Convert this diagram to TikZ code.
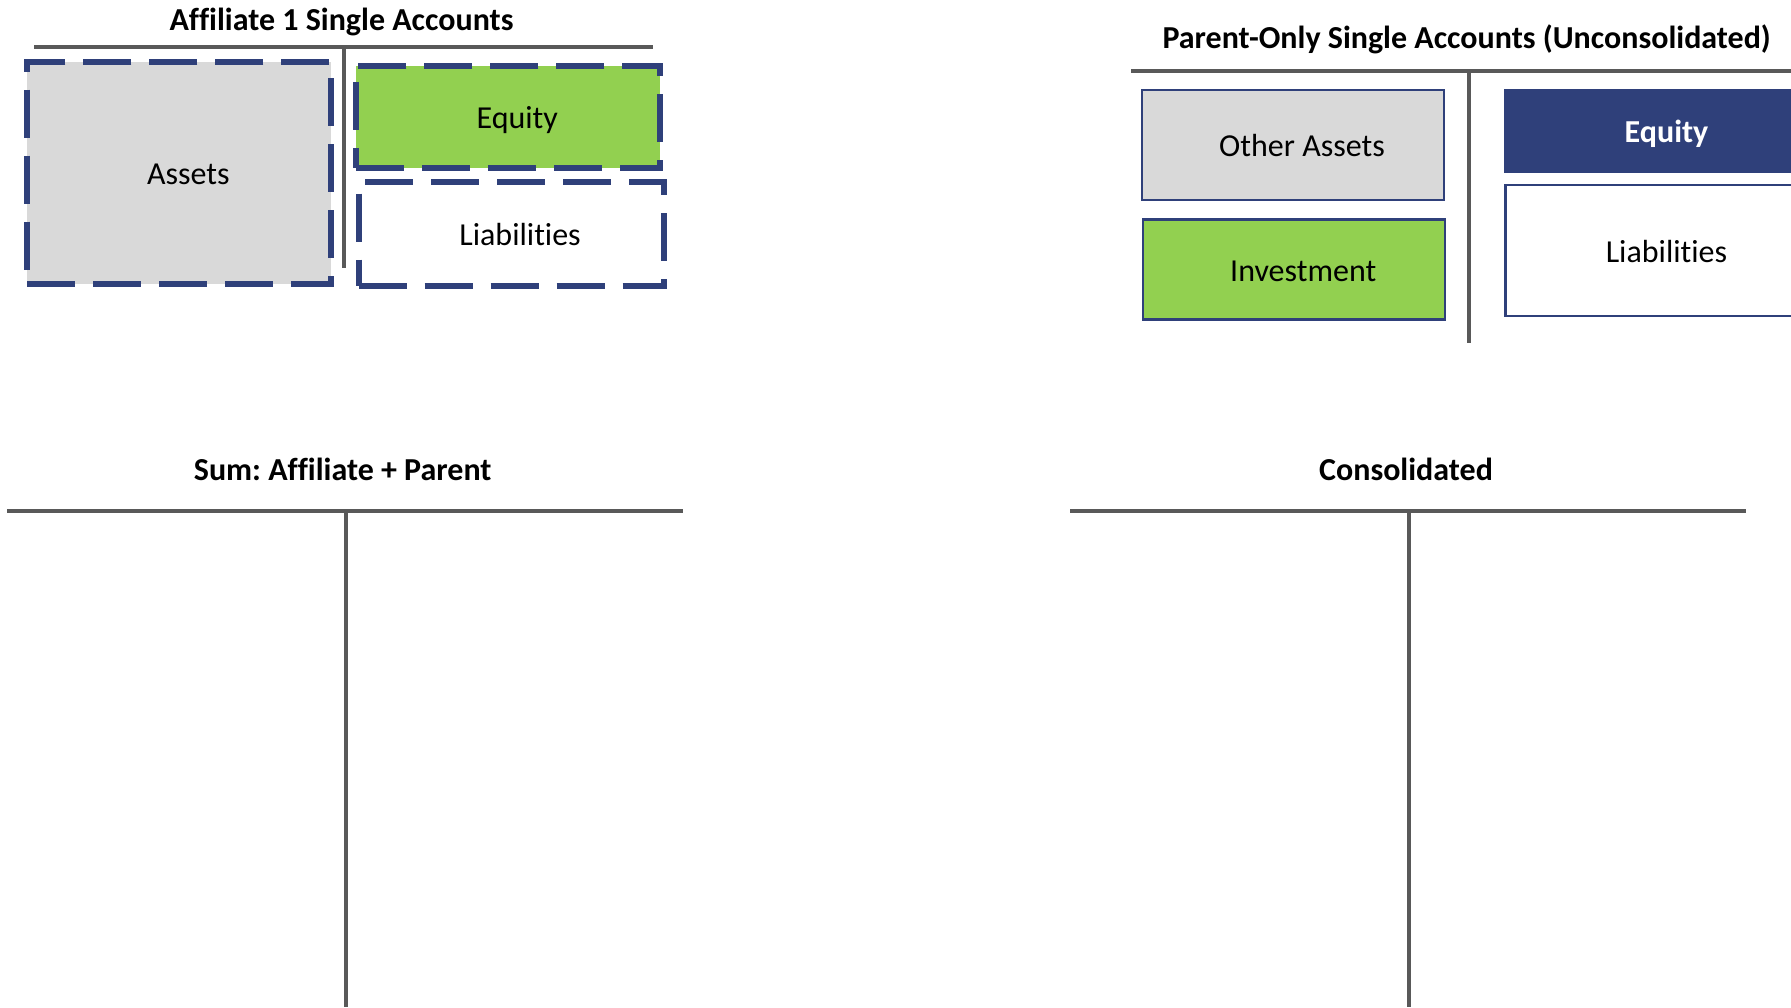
\documentclass[tikz,border=0pt]{standalone}
\usepackage{fontspec}
\setmainfont{Carlito}[Ligatures=NoCommon]
\usepackage{tikz}
\usetikzlibrary{positioning}
\definecolor{navy}{HTML}{2F407A}
\definecolor{accgreen}{HTML}{92D050}
\definecolor{accgray}{HTML}{D9D9D9}
\definecolor{teegray}{HTML}{595959}
\tikzset{every picture/.style={x=1pt,y=-1pt}}
\tikzset{tee lines/.style={draw=teegray,line width=4pt}}
\tikzset{heading/.style={font=\frenchspacing\bfseries\fontsize{32}{38}\selectfont,inner sep=0pt}}
\tikzset{acct/.style={draw=navy,line width=2.5pt,inner sep=0pt,outer sep=0pt,
    font=\fontsize{32}{38}\selectfont,text height=26pt,text depth=3pt}}
\tikzset{dashed acct/.style={acct,line width=6pt,dash pattern=on 48pt off 18pt}}
\tikzset{nudged/.style={execute at begin node={\hspace*{18pt}}}}

\begin{document}
\begin{tikzpicture}
      \clip (0,0) rectangle (1791,1007);
      \fill[white] (0,0) rectangle (1791,1007);
      % affiliate
      \node[heading] (afftitle) at (341.5,22) {Affiliate 1 Single Accounts};
      \draw[tee lines] (34,47) -- (653,47) (344,47) -- (344,268);
      \node[dashed acct,nudged,fill=accgray,minimum width=304pt,minimum height=222pt] (affassets) at (179.3,172.5) {Assets};
      \node[dashed acct,nudged,fill=accgreen,minimum width=304pt,minimum height=102pt] (affequity) at (508.3,117) {Equity};
      \node[dashed acct,nudged,fill=white,minimum width=305pt,minimum height=104pt] (affliab) at (511.1,233.6) {Liabilities};
      % parent
      \node[heading] (partitle) at (1466.6,39) {Parent-Only Single Accounts (Unconsolidated)};
      \draw[tee lines] (1131,71) -- (1791,71) (1469,71) -- (1469,343);
      \node[acct,nudged,fill=accgray,minimum width=302pt,minimum height=110pt] (parother) at (1293,145) {Other Assets};
      \node[acct,nudged,fill=accgreen,minimum width=302pt,minimum height=100pt] (parinvest) at (1294.2,269.6) {Investment};
      \node[acct,fill=navy,text=white,font=\bfseries\fontsize{32}{38}\selectfont,minimum width=322pt,minimum height=81pt] (parequity) at (1666.5,130.8) {Equity};
      \node[acct,fill=white,minimum width=322pt,minimum height=131pt] (parliab) at (1666.5,250.7) {Liabilities};
      % sum and consolidated
      \node[heading] (sumtitle) at (342.7,469.4) {Sum: Affiliate + Parent};
      \draw[tee lines] (7,511) -- (683,511) (346,511) -- (346,1007);
      \node[heading] (contitle) at (1406,469.4) {Consolidated};
      \draw[tee lines] (1070,511) -- (1746,511) (1409,511) -- (1409,1007);
    \end{tikzpicture}
\end{document}
